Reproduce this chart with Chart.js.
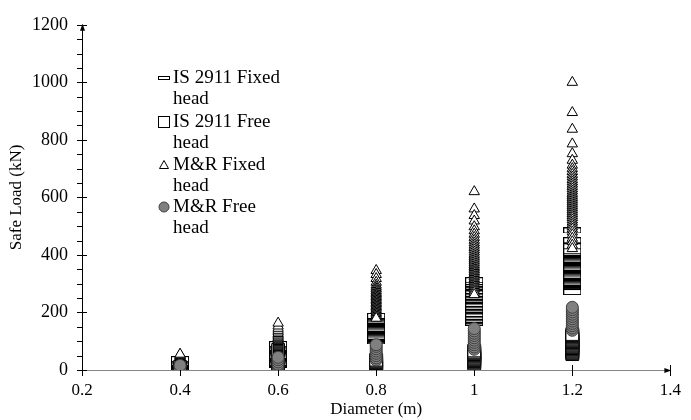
<!DOCTYPE html>
<html>
<head>
<meta charset="utf-8">
<script src="https://cdn.jsdelivr.net/npm/chart.js@4.4.1/dist/chart.umd.min.js"></script>
<style>
  html, body { margin: 0; padding: 0; background: #fff; }
  #wrap { width: 691px; height: 420px; }
</style>
</head>
<body>
<div id="wrap"><canvas id="chart" width="691" height="420"></canvas></div>
<script>
// Chart data
const diameters = [0.4, 0.6, 0.8, 1.0, 1.2];
const xTicks = [0.2, 0.4, 0.6, 0.8, 1.0, 1.2, 1.4];
const xTickLabels = ['0.2', '0.4', '0.6', '0.8', '1', '1.2', '1.4'];
const yTicks = [0, 200, 400, 600, 800, 1000, 1200];
const yTickLabels = ['0', '200', '400', '600', '800', '1000', '1200'];
const seriesNames = [['IS 2911 Fixed', 'head'], ['IS 2911 Free', 'head'], ['M&R Fixed', 'head'], ['M&R Free', 'head']];

// one inner list per diameter
const isFixedHead = [
    [10, 14, 18, 22, 26, 30, 34, 38],
    [18, 22, 26, 30, 34, 38, 42, 46, 50, 54, 58, 62, 66, 70, 74, 78, 82, 86, 90],
    [100, 104, 108, 112, 116, 120, 124, 128, 132, 136, 140, 144, 148, 152, 156, 160, 164, 168, 172, 176, 180, 184, 188],
    [165, 170, 175, 180, 185, 190, 195, 200, 205, 210, 215, 220, 225, 230, 235, 240, 245, 250, 255, 260, 265, 270, 275, 280, 285, 290, 295, 300, 306, 312],
    [271, 292, 296, 300, 304, 308, 312, 316, 320, 324, 328, 332, 336, 340, 344, 348, 352, 356, 360, 364, 368, 372, 376, 380, 384, 388, 392, 396, 400, 404, 408, 413, 430, 451, 485]
];
const isFreeHead = [
    [2, 5, 8, 11],
    [3, 6, 9, 12, 15, 18, 22, 26, 30, 34, 38, 42, 46, 50, 55, 60, 65, 70],
    [3, 6, 9, 12, 15, 18, 21, 24, 27, 30, 33, 36],
    [22, 25, 28, 31, 34, 37, 40, 43, 46, 49, 52, 55, 58, 61, 64, 68],
    [55, 58, 61, 64, 67, 70, 73, 76, 79, 82, 85, 88, 91, 94, 97, 100, 103, 106, 109, 112, 115, 118, 121, 125]
];
const mrFixedHead = [
    [14, 17, 20, 23, 26, 29, 32, 35, 37, 39, 41, 43, 45, 47, 49, 51, 53, 55],
    [60, 63, 66, 69, 72, 75, 78, 81, 84, 87, 90, 93, 96, 99, 102, 105, 108, 111, 114, 118, 122, 127, 132, 138, 145, 153, 163],
    [346, 332, 318, 305, 295, 288, 282, 276, 270, 265, 260, 255, 250, 245, 240, 235, 230, 225, 220, 215, 210, 205, 200, 195, 190, 185, 180],
    [620, 560, 537, 518, 498, 484, 472, 461, 451, 442, 434, 426, 418, 410, 402, 395, 388, 381, 374, 367, 360, 354, 348, 342, 336, 330, 324, 318, 312, 306, 300, 294, 288, 282, 276, 270, 262],
    [1000, 895, 837, 786, 752, 729, 712, 700, 690, 680, 671, 662, 654, 646, 638, 630, 622, 614, 607, 600, 593, 586, 579, 572, 565, 558, 551, 544, 537, 530, 522, 514, 506, 498, 490, 480, 470, 458, 446, 434, 422]
];
const mrFreeHead = [
    [12, 16],
    [20, 28, 36, 44],
    [35, 42, 50, 58, 66, 74, 82, 88],
    [72, 80, 88, 96, 104, 112, 120, 128, 136, 144],
    [138, 146, 154, 162, 170, 178, 186, 194, 202, 210, 218]
];

const toPoints = (groups) => {
    const pts = [];
    groups.forEach((vals, i) => vals.forEach(v => pts.push({ x: diameters[i], y: v })));
    return pts;
};

// dash marker used for the IS 2911 fixed head series
const dashMarker = document.createElement('canvas');
dashMarker.width = 18;
dashMarker.height = 6;
(() => {
    const c = dashMarker.getContext('2d');
    c.fillStyle = '#fff';
    c.fillRect(0.5, 0.5, 17, 5);
    c.strokeStyle = '#000';
    c.lineWidth = 1;
    c.strokeRect(0.5, 0.5, 17, 5);
})();

const serif = '"Liberation Serif", "Times New Roman", serif';

// Axis lines, crossing ticks and arrow heads
const axesPlugin = {
    id: 'axes',
    beforeDatasetsDraw(chart) {
        const { ctx, chartArea, scales } = chart;
        const x0 = chartArea.left, y0 = chartArea.bottom;
        ctx.save();
        ctx.lineWidth = 1;

        // x axis
        ctx.strokeStyle = '#868686';
        ctx.beginPath();
        ctx.moveTo(x0, y0 + 0.5);
        ctx.lineTo(chartArea.right, y0 + 0.5);
        ctx.stroke();
        ctx.strokeStyle = '#000';
        xTicks.forEach(v => {
            const px = Math.round(scales.x.getPixelForValue(v)) + 0.5;
            ctx.beginPath();
            ctx.moveTo(px, y0 - 5);
            ctx.lineTo(px, y0 + 6);
            ctx.stroke();
        });

        // y axis
        ctx.beginPath();
        ctx.moveTo(x0 + 0.5, y0);
        ctx.lineTo(x0 + 0.5, chartArea.top);
        ctx.stroke();
        for (let v = 0; v <= 1200; v += 50) {
            const py = Math.round(scales.y.getPixelForValue(v)) + 0.5;
            const major = v % 200 === 0;
            ctx.beginPath();
            ctx.moveTo(x0 - 5, py);
            ctx.lineTo(major ? x0 + 5 : x0, py);
            ctx.stroke();
        }

        // arrow heads
        ctx.fillStyle = '#000';
        ctx.beginPath();
        ctx.moveTo(x0 + 0.5, chartArea.top - 1);
        ctx.lineTo(x0 - 2, chartArea.top + 6);
        ctx.lineTo(x0 + 3, chartArea.top + 6);
        ctx.closePath();
        ctx.fill();
        ctx.beginPath();
        ctx.moveTo(chartArea.right + 1, y0 + 0.5);
        ctx.lineTo(chartArea.right - 6, y0 - 2);
        ctx.lineTo(chartArea.right - 6, y0 + 3);
        ctx.closePath();
        ctx.fill();
        ctx.restore();
    }
};

// Legend drawn inside the plot, with wrapped labels
const legendPlugin = {
    id: 'insideLegend',
    afterDraw(chart) {
        const { ctx } = chart;
        const mx = 164, tx = 173;
        const rows = [78, 122, 165, 207];
        ctx.save();
        ctx.font = '19px ' + serif;
        ctx.fillStyle = '#000';
        ctx.textBaseline = 'middle';
        ctx.strokeStyle = '#000';
        ctx.lineWidth = 1;
        rows.forEach((y, i) => {
            if (i === 0) {
                ctx.fillStyle = '#fff';
                ctx.fillRect(mx - 6, y - 2, 12, 3);
                ctx.strokeRect(mx - 5.5, y - 1.5, 11, 3);
            } else if (i === 1) {
                ctx.fillStyle = '#fff';
                ctx.fillRect(mx - 6, y - 6, 12, 12);
                ctx.strokeRect(mx - 5.5, y - 5.5, 11, 11);
            } else if (i === 2) {
                ctx.fillStyle = '#fff';
                ctx.beginPath();
                ctx.moveTo(mx, y - 4.5);
                ctx.lineTo(mx + 4.5, y + 3.5);
                ctx.lineTo(mx - 4.5, y + 3.5);
                ctx.closePath();
                ctx.fill();
                ctx.stroke();
            } else {
                ctx.fillStyle = '#808080';
                ctx.strokeStyle = '#3f3f3f';
                ctx.beginPath();
                ctx.arc(mx, y, 5, 0, Math.PI * 2);
                ctx.fill();
                ctx.stroke();
            }
            ctx.fillStyle = '#000';
            ctx.fillText(seriesNames[i][0], tx, y);
            ctx.fillText(seriesNames[i][1], tx, y + 21);
        });
        ctx.restore();
    }
};

new Chart(document.getElementById('chart'), {
    type: 'scatter',
    data: {
        datasets: [{
            label: seriesNames[0].join(' '),
            data: toPoints(isFixedHead),
            pointStyle: dashMarker,
            order: 4
        }, {
            label: seriesNames[1].join(' '),
            data: toPoints(isFreeHead),
            pointStyle: 'rect',
            pointRadius: 9,
            backgroundColor: '#fff',
            borderColor: '#000',
            borderWidth: 1,
            order: 3
        }, {
            label: seriesNames[2].join(' '),
            data: toPoints(mrFixedHead),
            pointStyle: 'triangle',
            pointRadius: 6,
            backgroundColor: '#fff',
            borderColor: '#000',
            borderWidth: 1,
            order: 2
        }, {
            label: seriesNames[3].join(' '),
            data: toPoints(mrFreeHead),
            pointStyle: 'circle',
            pointRadius: 6,
            backgroundColor: '#808080',
            borderColor: '#3f3f3f',
            borderWidth: 1,
            order: 1
        }]
    },
    options: {
        responsive: false,
        animation: false,
        layout: {
            padding: { left: 0, top: 17, right: 13, bottom: 0 }
        },
        scales: {
            x: {
                type: 'linear',
                min: 0.2,
                max: 1.4,
                afterBuildTicks: (scale) => { scale.ticks = xTicks.map(v => ({ value: v })); },
                afterFit: (scale) => { scale.height = 50; },
                grid: { display: false, drawTicks: false },
                border: { display: false },
                ticks: {
                    padding: 10,
                    color: '#000',
                    font: { family: serif, size: 17 },
                    callback: (value, index) => xTickLabels[index]
                },
                title: {
                    display: true,
                    text: 'Diameter (m)',
                    color: '#000',
                    font: { family: serif, size: 17 },
                    padding: { top: 0, bottom: 0 }
                }
            },
            y: {
                min: 0,
                max: 1200,
                afterBuildTicks: (scale) => { scale.ticks = yTicks.map(v => ({ value: v })); },
                afterFit: (scale) => { scale.width = 82; },
                grid: { display: false, drawTicks: false },
                border: { display: false },
                ticks: {
                    padding: 14,
                    color: '#000',
                    font: { family: serif, size: 18 },
                    callback: (value, index) => yTickLabels[index]
                },
                title: {
                    display: true,
                    text: 'Safe Load (kN)',
                    color: '#000',
                    font: { family: serif, size: 17 },
                    padding: { top: 6, bottom: 0 }
                }
            }
        },
        plugins: {
            legend: { display: false },
            tooltip: { enabled: false }
        }
    },
    plugins: [axesPlugin, legendPlugin]
});
</script>
</body>
</html>
